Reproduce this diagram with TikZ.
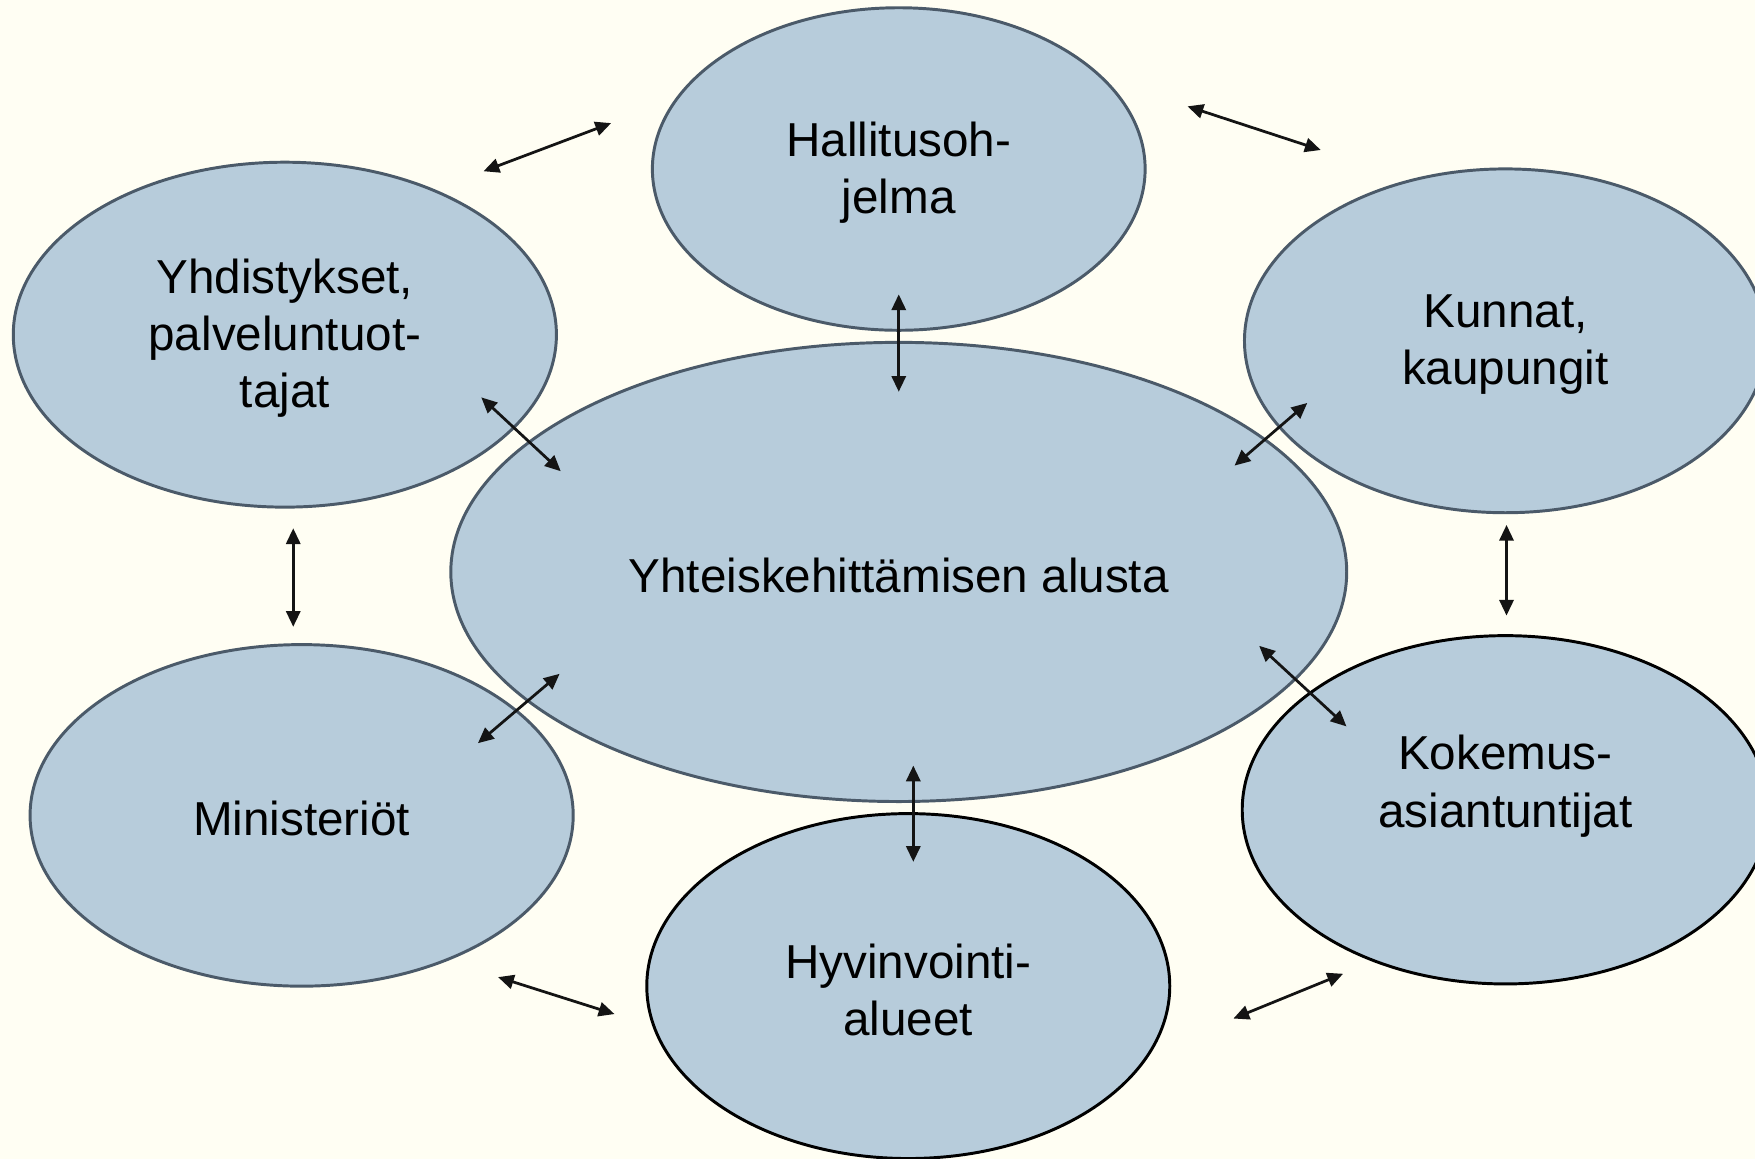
\documentclass[tikz,border=0pt]{standalone}
\usepackage{fontspec}
\setmainfont{Liberation Sans}
\usetikzlibrary{shapes.geometric,arrows.meta}
\definecolor{bgcream}{HTML}{FFFEF3}
\definecolor{ellfill}{HTML}{B7CCDB}
\definecolor{ellgray}{HTML}{4B5A69}
\tikzset{
  ell/.style={ellipse, fill=ellfill, draw=ellgray, line width=0.75pt, inner sep=0pt},
  ellblack/.style={ell, draw=black},
  txt/.style={font=\fontsize{12.1}{14.5}\selectfont, align=center, inner sep=0pt, yshift=-0.9pt},
  biarrow/.style={line width=0.7pt, draw=black!92,
    {Triangle[length=4pt,width=3.6pt]}-{Triangle[length=4pt,width=3.6pt]}},
}
\begin{document}
\begin{tikzpicture}[x=0.01cm,y=-0.01cm]
\useasboundingbox (0,0) rectangle (1568,1035.5);
\fill[bgcream] (0,0) rectangle (1568,1035.5);
% ellipses
\node[ell, minimum width=4.4cm, minimum height=2.88cm,
  label={[txt]center:Hallitusoh-\\jelma}] (hal) at (803,151) {};
\node[ell, minimum width=4.85cm, minimum height=3.08cm,
  label={[txt]center:Yhdistykset,\\palveluntuot-\\tajat}] (yhd) at (254.5,299) {};
\node[ell, minimum width=4.66cm, minimum height=3.07cm,
  label={[txt]center:Kunnat,\\kaupungit}] (kun) at (1345,304.5) {};
\node[ell, minimum width=4.85cm, minimum height=3.05cm,
  label={[txt]center:Ministeriöt}] (min) at (269.5,728.5) {};
\node[ellblack, minimum width=4.7cm, minimum height=3.11cm,
  label={[txt, yshift=6.9pt]center:Kokemus-\\asiantuntijat}] (kok) at (1345,723.5) {};
\node[ellblack, minimum width=4.67cm, minimum height=3.08cm,
  label={[txt]center:Hyvinvointi-\\alueet}] (hyv) at (811.5,881) {};
\node[ell, minimum width=8cm, minimum height=4.1cm,
  label={[txt]center:Yhteiskehittämisen alusta}] (cen) at (803,511) {};
% arrow end points
\coordinate (a1s) at (432,153);  \coordinate (a1e) at (546,110);
\coordinate (a2s) at (1061,95);  \coordinate (a2e) at (1180,134);
\coordinate (a3s) at (803,263);  \coordinate (a3e) at (803,350);
\coordinate (a4s) at (430,355);  \coordinate (a4e) at (501,421);
\coordinate (a5s) at (1168,360); \coordinate (a5e) at (1103,416);
\coordinate (a6s) at (262,472);  \coordinate (a6e) at (262,560);
\coordinate (a7s) at (1346,469); \coordinate (a7e) at (1346,550);
\coordinate (a8s) at (500,602);  \coordinate (a8e) at (427,664);
\coordinate (a9s) at (1125,577); \coordinate (a9e) at (1203,649);
\coordinate (a10s) at (816,684); \coordinate (a10e) at (816,770);
\coordinate (a11s) at (445,873); \coordinate (a11e) at (549,906);
\coordinate (a12s) at (1200,870); \coordinate (a12e) at (1102,910);
\foreach \i in {1,...,12} {\draw[biarrow] (a\i s) -- (a\i e);}
\end{tikzpicture}
\end{document}
